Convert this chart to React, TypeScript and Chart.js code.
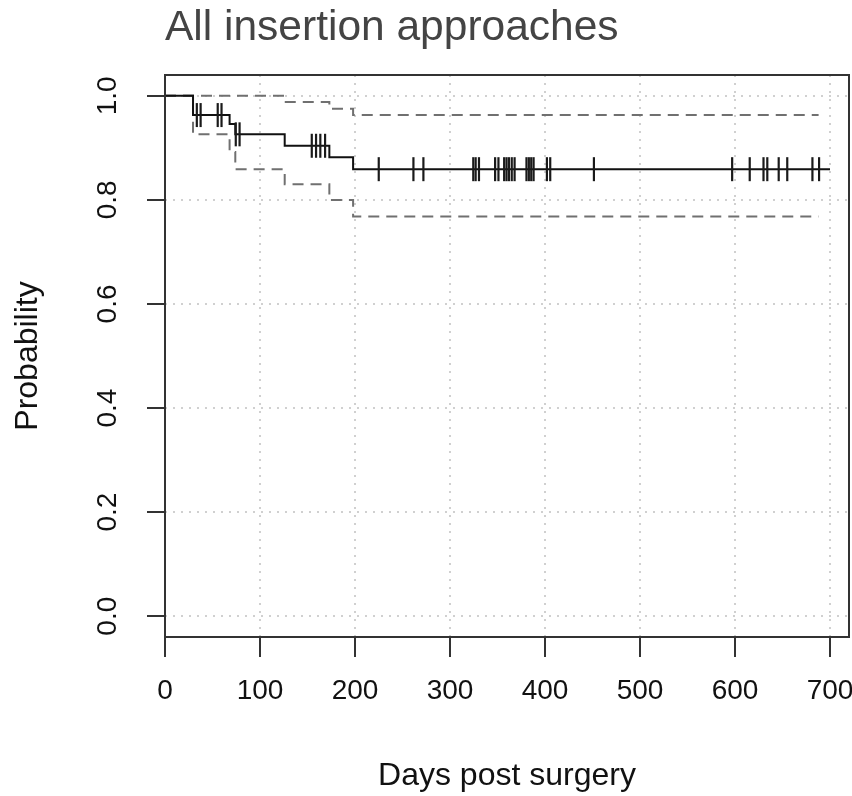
import React, { useEffect, useRef } from "react";
import { Chart, registerables } from "chart.js";

Chart.register(...registerables);

// Kaplan-Meier estimate (step changes at event times)
const survTimes = [0, 29.5, 68, 74, 126, 173, 198, 700];
const survProb = [1.0, 0.963, 0.946, 0.926, 0.904, 0.882, 0.859, 0.859];

// Upper confidence band
const upperTimes = [0, 126, 173, 198, 688];
const upperProb = [1.0, 0.988, 0.975, 0.963, 0.963];

// Lower confidence band
const lowerTimes = [0, 29.5, 68, 74, 126, 173, 198, 688];
const lowerProb = [1.0, 0.926, 0.892, 0.859, 0.83, 0.8, 0.768, 0.768];

// Censoring times (days)
const censorTimes = [
  33.5, 37.5, 55.5, 59.5, 74.5, 78.5, 154.5, 159, 163.5, 168.5, 225, 261.5,
  272, 324.5, 327, 330.5, 347.5, 351, 357, 359.5, 362, 365, 368, 380.5, 383,
  385.5, 388, 402, 405.5, 451.5, 597, 615.5, 630, 634, 646, 655, 681.5, 688.5,
];

const xTicks = [0, 100, 200, 300, 400, 500, 600, 700];
const yTicks = [0, 0.2, 0.4, 0.6, 0.8, 1.0];

const titleText = "All insertion approaches";
const xTitle = "Days post surgery";
const yTitle = "Probability";

function stepValue(times: number[], probs: number[], t: number) {
  let v = probs[0];
  for (let i = 0; i < times.length; i++) {
    if (times[i] <= t) v = probs[i];
  }
  return v;
}

const FONT = "'Liberation Sans', Arial, Helvetica, sans-serif";

const zeroPadding = () => ({ left: 0, top: 0, right: 0, bottom: 0 });

const boxPlugin = {
  id: "plotBox",
  afterDatasetsDraw(chart: any) {
    const { ctx, chartArea } = chart;
    ctx.save();
    ctx.strokeStyle = "#333";
    ctx.lineWidth = 2;
    ctx.setLineDash([]);
    ctx.strokeRect(
      chartArea.left,
      chartArea.top,
      chartArea.right - chartArea.left,
      chartArea.bottom - chartArea.top
    );
    ctx.restore();
  },
};

export default function App() {
  const ref = useRef<HTMLCanvasElement | null>(null);

  useEffect(() => {
    if (!ref.current) return;
    Chart.defaults.font.family = FONT;
    const chart = new Chart(ref.current, {
      type: "line",
      data: {
        datasets: [
          {
            type: "scatter",
            label: "censored",
            data: censorTimes.map((t) => ({ x: t, y: stepValue(survTimes, survProb, t) })),
            showLine: false,
            pointStyle: "line",
            rotation: 90,
            pointRadius: 12,
            pointBorderWidth: 2.2,
            borderColor: "#1a1a1a",
            backgroundColor: "#1a1a1a",
          } as any,
          {
            label: "survival",
            data: survTimes.map((t, i) => ({ x: t, y: survProb[i] })),
            stepped: true,
            borderColor: "#111",
            borderWidth: 2,
            pointRadius: 0,
            fill: false,
          },
          {
            label: "upper",
            data: upperTimes.map((t, i) => ({ x: t, y: upperProb[i] })),
            stepped: true,
            borderColor: "#707070",
            borderWidth: 2,
            borderDash: [11, 7],
            pointRadius: 0,
            fill: false,
          },
          {
            label: "lower",
            data: lowerTimes.map((t, i) => ({ x: t, y: lowerProb[i] })),
            stepped: true,
            borderColor: "#707070",
            borderWidth: 2,
            borderDash: [11, 7],
            pointRadius: 0,
            fill: false,
          },
        ],
      },
      options: {
        responsive: false,
        animation: false,
        devicePixelRatio: 1,
        layout: { autoPadding: false, padding: { top: 0, left: 0, right: 3, bottom: 0 } },
        plugins: {
          legend: { display: false },
          tooltip: { enabled: false },
          title: {
            display: true,
            text: titleText,
            align: "start",
            fullSize: false,
            color: "#444",
            font: { family: FONT, size: 42.5, weight: "normal" },
            padding: { top: 3, bottom: 21 },
          },
        },
        scales: {
          x: {
            type: "linear",
            min: 0,
            max: 720,
            afterBuildTicks: (s: any) => {
              s.ticks = xTicks.map((v) => ({ value: v }));
            },
            afterFit: (s: any) => {
              s.height = 159;
              s.paddingLeft = 0;
              s.paddingRight = 0;
              s.getPadding = zeroPadding;
            },
            ticks: {
              color: "#111",
              font: { family: FONT, size: 28 },
              padding: 17,
              maxRotation: 0,
              autoSkip: false,
              callback: (v: any) => String(v),
            },
            grid: {
              color: "#d0d0d0",
              lineWidth: 2,
              tickLength: 20,
              tickColor: "#333",
              tickWidth: 2,
              tickBorderDash: [],
            },
            border: { display: false, dash: [2, 6] },
            title: {
              display: true,
              text: xTitle,
              color: "#111",
              font: { family: FONT, size: 32 },
              padding: { top: 0, bottom: 1 },
            },
          },
          y: {
            type: "linear",
            min: -0.04,
            max: 1.04,
            afterBuildTicks: (s: any) => {
              s.ticks = yTicks.map((v) => ({ value: v }));
            },
            afterFit: (s: any) => {
              s.width = 165;
              s.paddingTop = 0;
              s.paddingBottom = 0;
              s.getPadding = zeroPadding;
            },
            ticks: {
              color: "#111",
              font: { family: FONT, size: 28 },
              padding: 19.5,
              minRotation: 90,
              maxRotation: 90,
              crossAlign: "center",
              autoSkip: false,
              callback: (v: any) => Number(v).toFixed(1),
            },
            grid: {
              color: "#d0d0d0",
              lineWidth: 2,
              tickLength: 18,
              tickColor: "#333",
              tickWidth: 2,
              tickBorderDash: [],
            },
            border: { display: false, dash: [2, 6] },
            title: {
              display: true,
              text: yTitle,
              color: "#111",
              font: { family: FONT, size: 32 },
              padding: { top: 9, bottom: 0 },
            },
          },
        },
      } as any,
      plugins: [boxPlugin],
    });
    return () => chart.destroy();
  }, []);

  return (
    <div style={{ position: "absolute", left: 0, top: 0, width: 852, height: 796 }}>
      <canvas ref={ref} width={852} height={796} style={{ width: 852, height: 796 }} />
    </div>
  );
}
